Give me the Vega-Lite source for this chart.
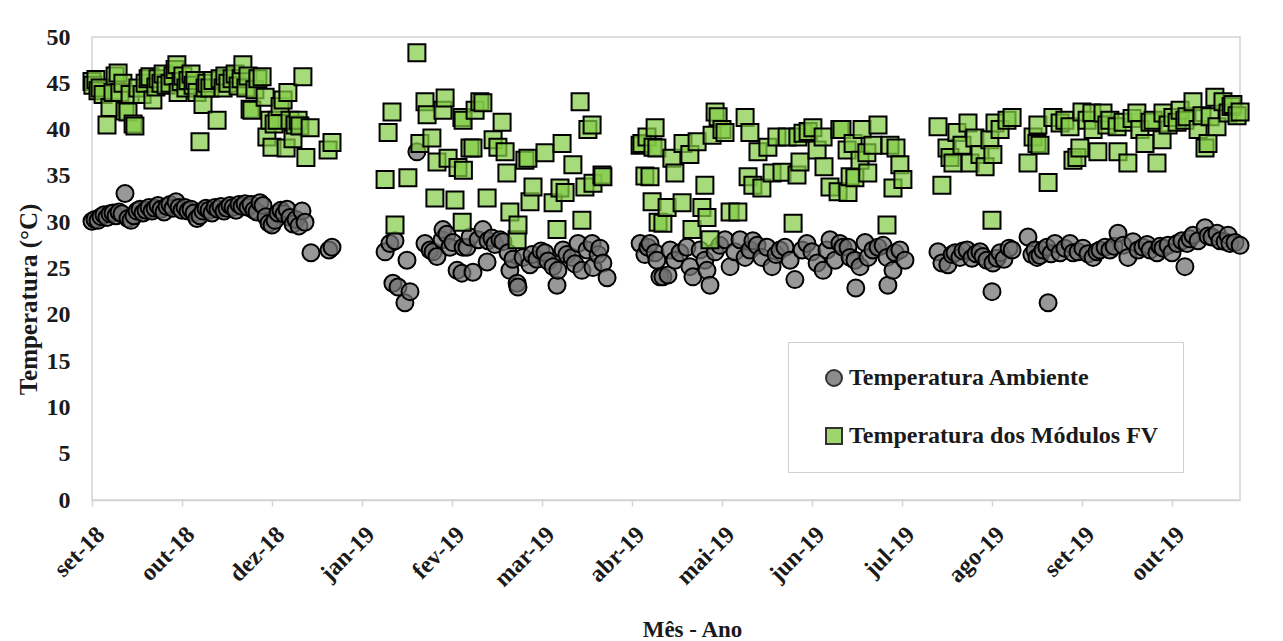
{
  "$schema": "https://vega.github.io/schema/vega-lite/v6.json",
  "width": 1148,
  "height": 463,
  "autosize": {"type": "none"},
  "padding": {"left": 92, "top": 37, "right": 43, "bottom": 141},
  "background": "white",
  "config": {
    "view": {"stroke": "#d4d4d4", "strokeWidth": 1.5},
    "font": "Liberation Serif"
  },
  "data": {
    "values": [
      {"d":0,"t":30.1,"s":"A"},{"d":1,"t":30.3,"s":"A"},{"d":2,"t":30.2,"s":"A"},{"d":3,"t":30.6,"s":"A"},{"d":4,"t":30.8,"s":"A"},{"d":5,"t":30.5,"s":"A"},{"d":6,"t":30.9,"s":"A"},{"d":7,"t":31.0,"s":"A"},{"d":8,"t":30.7,"s":"A"},{"d":9,"t":31.1,"s":"A"},
      {"d":10,"t":30.9,"s":"A"},{"d":11,"t":33.1,"s":"A"},{"d":12,"t":30.4,"s":"A"},{"d":13,"t":30.2,"s":"A"},{"d":14,"t":30.7,"s":"A"},{"d":15,"t":31.2,"s":"A"},{"d":16,"t":31.4,"s":"A"},{"d":17,"t":31.0,"s":"A"},{"d":18,"t":31.3,"s":"A"},{"d":19,"t":31.6,"s":"A"},
      {"d":20,"t":31.2,"s":"A"},{"d":21,"t":31.5,"s":"A"},{"d":22,"t":31.8,"s":"A"},{"d":23,"t":31.4,"s":"A"},{"d":24,"t":31.1,"s":"A"},{"d":25,"t":31.7,"s":"A"},{"d":26,"t":31.9,"s":"A"},{"d":27,"t":31.5,"s":"A"},{"d":28,"t":32.2,"s":"A"},{"d":29,"t":31.6,"s":"A"},
      {"d":30,"t":31.3,"s":"A"},{"d":31,"t":31.6,"s":"A"},{"d":32,"t":31.2,"s":"A"},{"d":33,"t":31.4,"s":"A"},{"d":34,"t":31.0,"s":"A"},{"d":35,"t":30.4,"s":"A"},{"d":36,"t":30.7,"s":"A"},{"d":37,"t":31.2,"s":"A"},{"d":38,"t":31.5,"s":"A"},{"d":39,"t":31.3,"s":"A"},
      {"d":40,"t":31.0,"s":"A"},{"d":41,"t":31.6,"s":"A"},{"d":42,"t":31.4,"s":"A"},{"d":43,"t":31.7,"s":"A"},{"d":44,"t":31.2,"s":"A"},{"d":45,"t":31.5,"s":"A"},{"d":46,"t":31.8,"s":"A"},{"d":47,"t":31.6,"s":"A"},{"d":48,"t":31.3,"s":"A"},{"d":49,"t":31.9,"s":"A"},
      {"d":50,"t":31.7,"s":"A"},{"d":51,"t":32.0,"s":"A"},{"d":52,"t":31.6,"s":"A"},{"d":53,"t":31.9,"s":"A"},{"d":54,"t":31.3,"s":"A"},{"d":55,"t":31.1,"s":"A"},{"d":56,"t":32.1,"s":"A"},{"d":57,"t":31.8,"s":"A"},{"d":58,"t":30.6,"s":"A"},{"d":59,"t":29.9,"s":"A"},
      {"d":60,"t":29.7,"s":"A"},{"d":61,"t":30.2,"s":"A"},{"d":62,"t":31.0,"s":"A"},{"d":63,"t":31.3,"s":"A"},{"d":64,"t":30.9,"s":"A"},{"d":65,"t":31.4,"s":"A"},{"d":66,"t":30.5,"s":"A"},{"d":67,"t":29.8,"s":"A"},{"d":68,"t":30.3,"s":"A"},{"d":69,"t":29.6,"s":"A"},
      {"d":70,"t":31.2,"s":"A"},{"d":71,"t":30.0,"s":"A"},{"d":73,"t":26.7,"s":"A"},{"d":79,"t":27.0,"s":"A"},{"d":80,"t":27.3,"s":"A"},
      {"d":97.7,"t":26.8,"s":"A"},{"d":99.3,"t":27.7,"s":"A"},{"d":100.3,"t":23.4,"s":"A"},{"d":101,"t":28.0,"s":"A"},{"d":102,"t":23.0,"s":"A"},{"d":104.3,"t":21.3,"s":"A"},{"d":105,"t":25.9,"s":"A"},{"d":106,"t":22.5,"s":"A"},{"d":108.3,"t":37.6,"s":"A"},{"d":111,"t":27.7,"s":"A"},
      {"d":112.7,"t":27.0,"s":"A"},{"d":113.7,"t":26.8,"s":"A"},{"d":115,"t":26.3,"s":"A"},{"d":116.7,"t":28.1,"s":"A"},{"d":117,"t":29.2,"s":"A"},{"d":118.3,"t":28.7,"s":"A"},{"d":119.3,"t":27.3,"s":"A"},{"d":120.3,"t":27.8,"s":"A"},{"d":121.7,"t":24.8,"s":"A"},{"d":123.3,"t":24.5,"s":"A"},
      {"d":123.7,"t":27.3,"s":"A"},{"d":125,"t":27.3,"s":"A"},{"d":126,"t":28.4,"s":"A"},{"d":127,"t":24.6,"s":"A"},{"d":128.7,"t":28.1,"s":"A"},{"d":130.3,"t":29.2,"s":"A"},{"d":131.7,"t":25.7,"s":"A"},{"d":132,"t":28.0,"s":"A"},{"d":133.3,"t":28.3,"s":"A"},{"d":134.3,"t":27.6,"s":"A"},
      {"d":136,"t":28.1,"s":"A"},{"d":137,"t":27.9,"s":"A"},{"d":138.7,"t":26.7,"s":"A"},{"d":139.3,"t":24.8,"s":"A"},{"d":140.3,"t":26.0,"s":"A"},{"d":141.7,"t":23.4,"s":"A"},{"d":142,"t":23.0,"s":"A"},{"d":143.7,"t":26.2,"s":"A"},{"d":146,"t":25.4,"s":"A"},{"d":146.7,"t":26.5,"s":"A"},
      {"d":148.3,"t":26.0,"s":"A"},{"d":149.7,"t":26.9,"s":"A"},{"d":151,"t":26.7,"s":"A"},{"d":152,"t":25.8,"s":"A"},{"d":153.7,"t":25.2,"s":"A"},{"d":155,"t":23.2,"s":"A"},{"d":155.3,"t":24.8,"s":"A"},{"d":157,"t":27.0,"s":"A"},{"d":158.3,"t":26.5,"s":"A"},{"d":160,"t":26.2,"s":"A"},
      {"d":161,"t":25.5,"s":"A"},{"d":162,"t":27.7,"s":"A"},{"d":163.3,"t":24.8,"s":"A"},{"d":165,"t":27.0,"s":"A"},{"d":166.7,"t":27.7,"s":"A"},{"d":167,"t":25.1,"s":"A"},{"d":168.7,"t":26.5,"s":"A"},{"d":169.3,"t":27.2,"s":"A"},{"d":170.3,"t":25.6,"s":"A"},{"d":171.7,"t":24.0,"s":"A"},
      {"d":182.7,"t":27.7,"s":"A"},{"d":184.3,"t":26.5,"s":"A"},{"d":185.3,"t":27.3,"s":"A"},{"d":186,"t":27.7,"s":"A"},{"d":187.7,"t":26.7,"s":"A"},{"d":188.3,"t":25.9,"s":"A"},{"d":189.3,"t":24.1,"s":"A"},{"d":190.3,"t":24.1,"s":"A"},{"d":192,"t":24.3,"s":"A"},{"d":192.7,"t":27.0,"s":"A"},
      {"d":194.3,"t":25.9,"s":"A"},{"d":196,"t":26.7,"s":"A"},{"d":198.3,"t":27.3,"s":"A"},{"d":199.3,"t":25.2,"s":"A"},{"d":200.3,"t":24.1,"s":"A"},{"d":202.7,"t":27.0,"s":"A"},{"d":204.3,"t":25.9,"s":"A"},{"d":205,"t":24.8,"s":"A"},{"d":206,"t":23.2,"s":"A"},{"d":207.7,"t":26.8,"s":"A"},
      {"d":209.3,"t":27.5,"s":"A"},{"d":211,"t":28.1,"s":"A"},{"d":212.7,"t":25.2,"s":"A"},{"d":214.3,"t":26.8,"s":"A"},{"d":216,"t":28.1,"s":"A"},{"d":217.7,"t":26.2,"s":"A"},{"d":219.3,"t":27.0,"s":"A"},{"d":220.3,"t":28.0,"s":"A"},{"d":221.7,"t":27.5,"s":"A"},{"d":223.3,"t":26.2,"s":"A"},
      {"d":225,"t":27.3,"s":"A"},{"d":226.7,"t":25.2,"s":"A"},{"d":228,"t":26.5,"s":"A"},{"d":229.3,"t":27.0,"s":"A"},{"d":231,"t":27.3,"s":"A"},{"d":232.7,"t":25.9,"s":"A"},{"d":234.3,"t":23.8,"s":"A"},{"d":236.7,"t":27.0,"s":"A"},{"d":238.3,"t":27.7,"s":"A"},{"d":240,"t":26.8,"s":"A"},
      {"d":241.7,"t":25.6,"s":"A"},{"d":243.7,"t":24.8,"s":"A"},{"d":245,"t":27.0,"s":"A"},{"d":246,"t":28.1,"s":"A"},{"d":247.7,"t":25.9,"s":"A"},{"d":249.3,"t":27.7,"s":"A"},{"d":250.3,"t":27.3,"s":"A"},{"d":252,"t":27.3,"s":"A"},{"d":252.7,"t":26.2,"s":"A"},{"d":254.3,"t":25.9,"s":"A"},
      {"d":254.6,"t":22.9,"s":"A"},{"d":256,"t":25.2,"s":"A"},{"d":257.7,"t":27.8,"s":"A"},{"d":258.7,"t":26.2,"s":"A"},{"d":260.3,"t":27.0,"s":"A"},{"d":262,"t":27.3,"s":"A"},{"d":263.7,"t":27.5,"s":"A"},{"d":265,"t":26.2,"s":"A"},{"d":265.3,"t":23.2,"s":"A"},{"d":267,"t":24.8,"s":"A"},
      {"d":267.7,"t":26.7,"s":"A"},{"d":269.3,"t":27.0,"s":"A"},{"d":271,"t":25.9,"s":"A"},
      {"d":282,"t":26.8,"s":"A"},{"d":283.3,"t":25.6,"s":"A"},{"d":285.3,"t":25.4,"s":"A"},{"d":286.7,"t":26.5,"s":"A"},{"d":287.7,"t":26.7,"s":"A"},{"d":289.3,"t":26.2,"s":"A"},{"d":290.3,"t":26.9,"s":"A"},{"d":291.7,"t":27.0,"s":"A"},{"d":293.3,"t":26.1,"s":"A"},{"d":294.7,"t":26.6,"s":"A"},
      {"d":296,"t":26.8,"s":"A"},{"d":297,"t":26.3,"s":"A"},{"d":298.3,"t":25.9,"s":"A"},{"d":300,"t":22.5,"s":"A"},{"d":300.3,"t":25.6,"s":"A"},{"d":301.7,"t":26.1,"s":"A"},{"d":302.7,"t":26.7,"s":"A"},{"d":304,"t":26.0,"s":"A"},{"d":305.7,"t":27.2,"s":"A"},{"d":306.7,"t":27.0,"s":"A"},
      {"d":312,"t":28.4,"s":"A"},{"d":313.3,"t":26.5,"s":"A"},{"d":314.3,"t":27.0,"s":"A"},{"d":315,"t":26.2,"s":"A"},{"d":316,"t":26.4,"s":"A"},{"d":317,"t":27.0,"s":"A"},{"d":318.3,"t":27.3,"s":"A"},{"d":318.7,"t":21.3,"s":"A"},{"d":319.7,"t":26.6,"s":"A"},{"d":321,"t":27.7,"s":"A"},
      {"d":322.7,"t":26.7,"s":"A"},{"d":324.3,"t":27.2,"s":"A"},{"d":326,"t":27.7,"s":"A"},{"d":327,"t":26.7,"s":"A"},{"d":328.7,"t":26.8,"s":"A"},{"d":330.3,"t":27.2,"s":"A"},{"d":332,"t":26.6,"s":"A"},{"d":333.7,"t":26.2,"s":"A"},{"d":335,"t":26.8,"s":"A"},{"d":336,"t":27.0,"s":"A"},
      {"d":337.7,"t":27.3,"s":"A"},{"d":339.3,"t":27.0,"s":"A"},{"d":340.7,"t":27.4,"s":"A"},{"d":342,"t":28.8,"s":"A"},{"d":343.7,"t":27.5,"s":"A"},{"d":345.3,"t":26.2,"s":"A"},{"d":347,"t":27.9,"s":"A"},{"d":348.7,"t":27.0,"s":"A"},{"d":350.3,"t":27.3,"s":"A"},{"d":351.7,"t":27.6,"s":"A"},
      {"d":352.7,"t":27.0,"s":"A"},{"d":355,"t":26.7,"s":"A"},{"d":356,"t":27.4,"s":"A"},{"d":357,"t":27.2,"s":"A"},{"d":358.7,"t":27.5,"s":"A"},{"d":360,"t":26.7,"s":"A"},{"d":361.7,"t":27.7,"s":"A"},{"d":363.3,"t":28.0,"s":"A"},{"d":364.3,"t":25.2,"s":"A"},{"d":365,"t":27.7,"s":"A"},
      {"d":366,"t":28.2,"s":"A"},{"d":367,"t":28.6,"s":"A"},{"d":368.7,"t":28.0,"s":"A"},{"d":371,"t":29.4,"s":"A"},{"d":372,"t":28.5,"s":"A"},{"d":373.3,"t":28.4,"s":"A"},{"d":375,"t":28.8,"s":"A"},{"d":376,"t":28.0,"s":"A"},{"d":377.7,"t":27.9,"s":"A"},{"d":378.7,"t":28.6,"s":"A"},
      {"d":379.3,"t":27.7,"s":"A"},{"d":381,"t":27.8,"s":"A"},{"d":382.7,"t":27.5,"s":"A"},

      {"d":0,"t":45.2,"s":"M"},{"d":0.3,"t":44.8,"s":"M"},{"d":1.3,"t":45.4,"s":"M"},{"d":2,"t":44.2,"s":"M"},{"d":2.7,"t":44.5,"s":"M"},{"d":3.7,"t":43.8,"s":"M"},{"d":5,"t":40.5,"s":"M"},{"d":6,"t":42.4,"s":"M"},{"d":7,"t":44.0,"s":"M"},{"d":7.7,"t":45.8,"s":"M"},
      {"d":8.7,"t":46.1,"s":"M"},{"d":9.3,"t":44.0,"s":"M"},{"d":10.3,"t":45.0,"s":"M"},{"d":11,"t":42.0,"s":"M"},{"d":12,"t":41.9,"s":"M"},{"d":12.7,"t":43.8,"s":"M"},{"d":13.7,"t":40.6,"s":"M"},{"d":14.3,"t":40.4,"s":"M"},{"d":15.3,"t":44.5,"s":"M"},{"d":16.7,"t":43.8,"s":"M"},
      {"d":17.7,"t":45.0,"s":"M"},{"d":18.7,"t":45.5,"s":"M"},{"d":19.3,"t":45.7,"s":"M"},{"d":20.3,"t":43.2,"s":"M"},{"d":21.3,"t":44.6,"s":"M"},{"d":22,"t":45.5,"s":"M"},{"d":23,"t":45.0,"s":"M"},{"d":23.7,"t":46.0,"s":"M"},{"d":24.7,"t":44.8,"s":"M"},{"d":26,"t":45.0,"s":"M"},
      {"d":27,"t":45.8,"s":"M"},{"d":27.7,"t":46.5,"s":"M"},{"d":28.3,"t":47.0,"s":"M"},{"d":28.7,"t":44.0,"s":"M"},{"d":29.7,"t":45.2,"s":"M"},{"d":30.3,"t":45.8,"s":"M"},{"d":31.3,"t":44.5,"s":"M"},{"d":32,"t":45.3,"s":"M"},{"d":33,"t":46.0,"s":"M"},{"d":33.7,"t":44.8,"s":"M"},
      {"d":34.3,"t":45.3,"s":"M"},{"d":35,"t":44.0,"s":"M"},{"d":36,"t":38.7,"s":"M"},{"d":37,"t":42.7,"s":"M"},{"d":37.7,"t":44.5,"s":"M"},{"d":38.3,"t":45.0,"s":"M"},{"d":39.3,"t":44.5,"s":"M"},{"d":40.3,"t":45.3,"s":"M"},{"d":41.7,"t":41.0,"s":"M"},{"d":42.7,"t":45.5,"s":"M"},
      {"d":43.7,"t":44.5,"s":"M"},{"d":44.3,"t":45.8,"s":"M"},{"d":45.3,"t":45.0,"s":"M"},{"d":46.7,"t":45.5,"s":"M"},{"d":47.7,"t":46.0,"s":"M"},{"d":48.7,"t":44.7,"s":"M"},{"d":49.7,"t":45.5,"s":"M"},{"d":50.3,"t":47.0,"s":"M"},{"d":51.3,"t":44.5,"s":"M"},{"d":52,"t":45.8,"s":"M"},
      {"d":52.7,"t":42.2,"s":"M"},{"d":53.3,"t":42.1,"s":"M"},{"d":54.3,"t":44.3,"s":"M"},{"d":55.3,"t":45.5,"s":"M"},{"d":56.7,"t":45.7,"s":"M"},{"d":57.7,"t":43.5,"s":"M"},{"d":58.3,"t":39.2,"s":"M"},{"d":59.3,"t":41.0,"s":"M"},{"d":60,"t":38.1,"s":"M"},{"d":60.7,"t":40.6,"s":"M"},
      {"d":61.7,"t":41.0,"s":"M"},{"d":62.7,"t":42.5,"s":"M"},{"d":63.7,"t":43.2,"s":"M"},{"d":64.7,"t":38.0,"s":"M"},{"d":65.3,"t":44.0,"s":"M"},{"d":66,"t":41.0,"s":"M"},{"d":67,"t":39.0,"s":"M"},{"d":67.7,"t":40.5,"s":"M"},{"d":68.7,"t":41.0,"s":"M"},{"d":69.3,"t":40.4,"s":"M"},
      {"d":70.3,"t":45.7,"s":"M"},{"d":71.3,"t":37.0,"s":"M"},{"d":72.7,"t":40.2,"s":"M"},{"d":78.7,"t":37.8,"s":"M"},{"d":80,"t":38.6,"s":"M"},
      {"d":97.7,"t":34.6,"s":"M"},{"d":98.7,"t":39.7,"s":"M"},{"d":100,"t":41.9,"s":"M"},{"d":101,"t":29.7,"s":"M"},{"d":105.3,"t":34.8,"s":"M"},{"d":108.3,"t":48.3,"s":"M"},{"d":109.3,"t":38.5,"s":"M"},{"d":111,"t":43.0,"s":"M"},{"d":111.7,"t":41.6,"s":"M"},{"d":113.3,"t":39.1,"s":"M"},
      {"d":114.3,"t":32.6,"s":"M"},{"d":115,"t":36.5,"s":"M"},{"d":117,"t":42.1,"s":"M"},{"d":117.7,"t":43.4,"s":"M"},{"d":118.7,"t":36.9,"s":"M"},{"d":121,"t":32.4,"s":"M"},{"d":122,"t":35.9,"s":"M"},{"d":123.3,"t":41.3,"s":"M"},{"d":123.4,"t":30.0,"s":"M"},{"d":123.7,"t":41.0,"s":"M"},
      {"d":123.8,"t":35.6,"s":"M"},{"d":126,"t":38.0,"s":"M"},{"d":127,"t":38.0,"s":"M"},{"d":127.7,"t":42.1,"s":"M"},{"d":129.3,"t":43.0,"s":"M"},{"d":130.3,"t":42.9,"s":"M"},{"d":131.7,"t":32.6,"s":"M"},{"d":133.7,"t":38.9,"s":"M"},{"d":135.3,"t":38.1,"s":"M"},{"d":136.7,"t":40.8,"s":"M"},
      {"d":137.7,"t":37.6,"s":"M"},{"d":138.3,"t":35.3,"s":"M"},{"d":139.3,"t":31.1,"s":"M"},{"d":141.7,"t":28.1,"s":"M"},{"d":142,"t":29.7,"s":"M"},{"d":144.3,"t":36.7,"s":"M"},{"d":145.3,"t":36.9,"s":"M"},{"d":146,"t":32.2,"s":"M"},{"d":147,"t":33.8,"s":"M"},{"d":151,"t":37.5,"s":"M"},
      {"d":153.7,"t":32.1,"s":"M"},{"d":155,"t":29.2,"s":"M"},{"d":156,"t":33.7,"s":"M"},{"d":156.7,"t":38.5,"s":"M"},{"d":157.7,"t":33.2,"s":"M"},{"d":160.3,"t":36.2,"s":"M"},{"d":162.7,"t":43.0,"s":"M"},{"d":163.3,"t":30.2,"s":"M"},{"d":164.3,"t":33.8,"s":"M"},{"d":165.3,"t":40.0,"s":"M"},
      {"d":166.7,"t":40.5,"s":"M"},{"d":167,"t":34.2,"s":"M"},{"d":170,"t":35.1,"s":"M"},{"d":170.3,"t":34.9,"s":"M"},
      {"d":182.7,"t":38.3,"s":"M"},{"d":183.3,"t":38.5,"s":"M"},{"d":184.3,"t":35.0,"s":"M"},{"d":185,"t":39.2,"s":"M"},{"d":186,"t":34.9,"s":"M"},{"d":186.7,"t":32.2,"s":"M"},{"d":187,"t":38.1,"s":"M"},{"d":187.7,"t":40.2,"s":"M"},{"d":188.3,"t":38.0,"s":"M"},{"d":188.7,"t":30.0,"s":"M"},
      {"d":190.3,"t":29.9,"s":"M"},{"d":191.7,"t":31.6,"s":"M"},{"d":193.3,"t":36.9,"s":"M"},{"d":194.3,"t":35.3,"s":"M"},{"d":196.7,"t":32.1,"s":"M"},{"d":197,"t":38.5,"s":"M"},{"d":199.3,"t":37.3,"s":"M"},{"d":200,"t":29.2,"s":"M"},{"d":201.7,"t":38.7,"s":"M"},{"d":203.3,"t":31.6,"s":"M"},
      {"d":204.3,"t":34.0,"s":"M"},{"d":205,"t":30.5,"s":"M"},{"d":206,"t":28.1,"s":"M"},{"d":206.7,"t":39.4,"s":"M"},{"d":207.7,"t":41.9,"s":"M"},{"d":208.7,"t":41.4,"s":"M"},{"d":210,"t":40.0,"s":"M"},{"d":211,"t":39.7,"s":"M"},{"d":212.7,"t":31.1,"s":"M"},{"d":215.3,"t":31.1,"s":"M"},
      {"d":217.7,"t":41.3,"s":"M"},{"d":218.7,"t":34.9,"s":"M"},{"d":219.3,"t":39.7,"s":"M"},{"d":220.3,"t":34.0,"s":"M"},{"d":222,"t":37.6,"s":"M"},{"d":223.3,"t":33.7,"s":"M"},{"d":225.3,"t":38.1,"s":"M"},{"d":226.7,"t":35.3,"s":"M"},{"d":228.3,"t":39.2,"s":"M"},{"d":230,"t":35.4,"s":"M"},
      {"d":231.7,"t":39.2,"s":"M"},{"d":233.7,"t":29.9,"s":"M"},{"d":235,"t":35.1,"s":"M"},{"d":235.3,"t":39.2,"s":"M"},{"d":236,"t":36.5,"s":"M"},{"d":237,"t":39.6,"s":"M"},{"d":238.7,"t":39.8,"s":"M"},{"d":240.3,"t":40.2,"s":"M"},{"d":241.7,"t":37.8,"s":"M"},{"d":243.7,"t":39.2,"s":"M"},
      {"d":244,"t":36.0,"s":"M"},{"d":246,"t":33.8,"s":"M"},{"d":248.7,"t":33.3,"s":"M"},{"d":249.3,"t":40.0,"s":"M"},{"d":250,"t":40.0,"s":"M"},{"d":251.7,"t":37.8,"s":"M"},{"d":252,"t":33.2,"s":"M"},{"d":252.7,"t":34.9,"s":"M"},{"d":253.7,"t":38.5,"s":"M"},{"d":254.3,"t":34.8,"s":"M"},
      {"d":256,"t":36.7,"s":"M"},{"d":256.7,"t":40.0,"s":"M"},{"d":258.3,"t":37.5,"s":"M"},{"d":258.6,"t":35.3,"s":"M"},{"d":260.3,"t":38.3,"s":"M"},{"d":262,"t":40.5,"s":"M"},{"d":265,"t":29.7,"s":"M"},{"d":266,"t":38.3,"s":"M"},{"d":267,"t":33.7,"s":"M"},{"d":268,"t":38.0,"s":"M"},
      {"d":269.3,"t":36.2,"s":"M"},{"d":270.3,"t":34.6,"s":"M"},
      {"d":282,"t":40.3,"s":"M"},{"d":283.3,"t":34.0,"s":"M"},{"d":285,"t":38.0,"s":"M"},{"d":286,"t":37.0,"s":"M"},{"d":287,"t":36.4,"s":"M"},{"d":288.3,"t":39.7,"s":"M"},{"d":290,"t":38.3,"s":"M"},{"d":292,"t":40.7,"s":"M"},{"d":292.7,"t":36.4,"s":"M"},{"d":294.3,"t":39.1,"s":"M"},
      {"d":296,"t":37.3,"s":"M"},{"d":297.7,"t":36.0,"s":"M"},{"d":299.3,"t":38.9,"s":"M"},{"d":300,"t":30.2,"s":"M"},{"d":300.3,"t":37.3,"s":"M"},{"d":301,"t":40.7,"s":"M"},{"d":302.7,"t":40.0,"s":"M"},{"d":305,"t":41.0,"s":"M"},{"d":306.7,"t":41.3,"s":"M"},{"d":312,"t":36.4,"s":"M"},
      {"d":313.7,"t":39.2,"s":"M"},{"d":315,"t":38.5,"s":"M"},{"d":315.3,"t":40.5,"s":"M"},{"d":316,"t":38.3,"s":"M"},{"d":318.7,"t":34.3,"s":"M"},{"d":320.3,"t":41.3,"s":"M"},{"d":322.7,"t":40.7,"s":"M"},{"d":324.3,"t":41.0,"s":"M"},{"d":326,"t":40.3,"s":"M"},{"d":327,"t":36.7,"s":"M"},
      {"d":328.3,"t":37.0,"s":"M"},{"d":329.3,"t":38.0,"s":"M"},{"d":330,"t":41.9,"s":"M"},{"d":331.7,"t":41.0,"s":"M"},{"d":333.3,"t":41.8,"s":"M"},{"d":333.7,"t":40.0,"s":"M"},{"d":335.3,"t":37.6,"s":"M"},{"d":337,"t":41.8,"s":"M"},{"d":338.3,"t":40.5,"s":"M"},{"d":339.3,"t":41.0,"s":"M"},
      {"d":341.7,"t":40.3,"s":"M"},{"d":342,"t":37.6,"s":"M"},{"d":343.7,"t":40.8,"s":"M"},{"d":345.3,"t":36.4,"s":"M"},{"d":346.7,"t":41.2,"s":"M"},{"d":348.3,"t":41.8,"s":"M"},{"d":349.3,"t":40.0,"s":"M"},{"d":351,"t":38.5,"s":"M"},{"d":352.7,"t":40.8,"s":"M"},{"d":353.7,"t":41.0,"s":"M"},
      {"d":355,"t":36.4,"s":"M"},{"d":356.7,"t":38.9,"s":"M"},{"d":357,"t":41.8,"s":"M"},{"d":358.7,"t":40.5,"s":"M"},{"d":360.3,"t":41.3,"s":"M"},{"d":361.7,"t":40.8,"s":"M"},{"d":362.7,"t":42.1,"s":"M"},{"d":364.3,"t":41.0,"s":"M"},{"d":365,"t":41.4,"s":"M"},{"d":367,"t":43.0,"s":"M"},
      {"d":368.7,"t":40.0,"s":"M"},{"d":370,"t":41.5,"s":"M"},{"d":371,"t":38.0,"s":"M"},{"d":372,"t":38.5,"s":"M"},{"d":372.7,"t":41.4,"s":"M"},{"d":374.3,"t":43.5,"s":"M"},{"d":375,"t":40.3,"s":"M"},{"d":377,"t":43.0,"s":"M"},{"d":378.7,"t":41.8,"s":"M"},{"d":379.7,"t":42.5,"s":"M"},
      {"d":380.3,"t":42.7,"s":"M"},{"d":381.7,"t":41.5,"s":"M"},{"d":382.7,"t":41.9,"s":"M"}
    ]
  },
  "mark": {
    "type": "point",
    "filled": true,
    "size": 289,
    "fillOpacity": 0.72,
    "stroke": "black",
    "strokeWidth": 2,
    "strokeOpacity": 1,
    "clip": false
  },
  "encoding": {
    "x": {
      "field": "d",
      "type": "quantitative",
      "scale": {"domain": [0, 382.67], "nice": false, "zero": false},
      "axis": {
        "title": "Mês - Ano",
        "titleFont": "Liberation Serif",
        "titleFontSize": 23,
        "titleFontWeight": "bold",
        "titleColor": "#1a1a1a",
        "titleX": 600,
        "titleY": 136,
        "titleBaseline": "alphabetic",
        "values": [0, 30, 60, 90, 120, 150, 180, 210, 240, 270, 300, 330, 360],
        "labelExpr": "['set-18','out-18','dez-18','jan-19','fev-19','mar-19','abr-19','mai-19','jun-19','jul-19','ago-19','set-19','out-19'][round(datum.value/30)]",
        "labelAngle": -45,
        "labelAlign": "right",
        "labelBaseline": "top",
        "labelPadding": 16,
        "labelFont": "Liberation Serif",
        "labelFontSize": 24,
        "labelFontWeight": "bold",
        "labelColor": "#1a1a1a",
        "labelFlush": false,
        "labelOverlap": false,
        "domain": true,
        "domainColor": "#d4d4d4",
        "domainWidth": 1.5,
        "ticks": true,
        "tickColor": "#d4d4d4",
        "tickWidth": 1.5,
        "tickSize": 6,
        "grid": false
      }
    },
    "y": {
      "field": "t",
      "type": "quantitative",
      "scale": {"domain": [0, 50], "nice": false},
      "axis": {
        "title": "Temperatura (°C)",
        "titleFont": "Liberation Serif",
        "titleFontSize": 25,
        "titleFontWeight": "bold",
        "titleColor": "#1a1a1a",
        "titleX": -56,
        "titleY": 262,
        "titleAngle": -90,
        "titleAlign": "center",
        "titleBaseline": "alphabetic",
        "values": [0, 5, 10, 15, 20, 25, 30, 35, 40, 45, 50],
        "labelFont": "Liberation Serif",
        "labelFontSize": 24,
        "labelFontWeight": "bold",
        "labelColor": "#1a1a1a",
        "labelPadding": 22,
        "labelFlush": false,
        "ticks": false,
        "domain": false,
        "grid": false
      }
    },
    "shape": {
      "field": "s",
      "type": "nominal",
      "scale": {"domain": ["A", "M"], "range": ["circle", "square"]},
      "legend": null
    },
    "color": {
      "field": "s",
      "type": "nominal",
      "scale": {"domain": ["A", "M"], "range": ["#707070", "#84cc48"]},
      "legend": {
        "title": null,
        "orient": "none",
        "legendX": 696,
        "legendY": 305,
        "padding": 24,
        "fillColor": "white",
        "strokeColor": "#d0d0d0",
        "rowPadding": 34,
        "labelExpr": "datum.value == 'A' ? 'Temperatura Ambiente' : 'Temperatura dos Módulos FV'",
        "labelFont": "Liberation Serif",
        "labelFontSize": 24,
        "labelFontWeight": "bold",
        "labelColor": "#1a1a1a",
        "labelOffset": 3,
        "labelLimit": 0,
        "symbolOffset": 10,
        "symbolSize": 256,
        "symbolStrokeColor": "black",
        "symbolStrokeWidth": 2,
        "symbolOpacity": 0.8
      }
    }
  }
}
